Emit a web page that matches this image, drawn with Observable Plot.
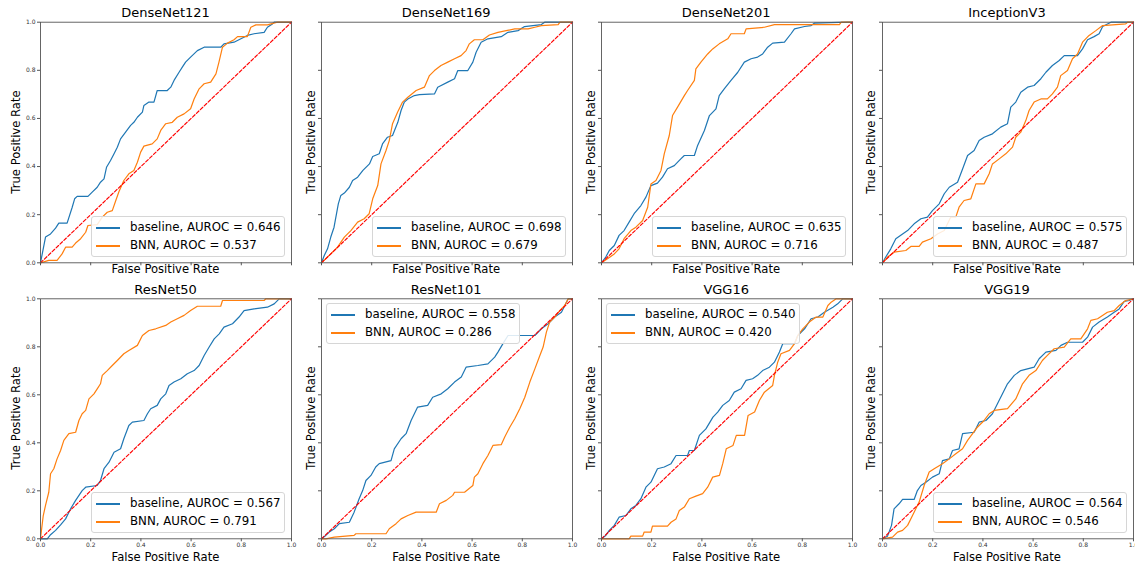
<!DOCTYPE html>
<html>
<head>
<meta charset="utf-8">
<script src="https://cdn.jsdelivr.net/npm/d3@7"></script>
<script src="https://cdn.jsdelivr.net/npm/@observablehq/plot@0.6"></script>
<style>
  html, body { margin: 0; padding: 0; background: #fff; }
  #root { position: relative; width: 1135px; height: 570px; overflow: hidden; font-family: "DejaVu Sans", sans-serif; color: #000; }
  #root svg { position: absolute; overflow: visible; }
  .title { position: absolute; font-size: 13px; line-height: 13px; white-space: nowrap; transform: translateX(-50%); }
  .xlab { position: absolute; font-size: 11.6px; line-height: 11.6px; white-space: nowrap; transform: translate(-50%, -50%); }
  .ylab { position: absolute; font-size: 11.6px; line-height: 11.6px; white-space: nowrap; transform: translate(-50%, -50%) rotate(-90deg); }
  .legend { position: absolute; z-index: 5; width: 194px; height: 41px; box-sizing: border-box; background: rgba(255,255,255,0.85); border: 1px solid #d6d6d6; border-radius: 3px; }
  .legend .sw { position: absolute; left: 4px; width: 24px; height: 2px; }
  .legend .lt { position: absolute; left: 38px; font-size: 11.8px; line-height: 11.8px; white-space: nowrap; }
</style>
</head>
<body>
<div id="root"></div>
<script>
// ---------------- data ----------------
const models = ["DenseNet121", "DenseNet169", "DenseNet201", "InceptionV3", "ResNet50", "ResNet101", "VGG16", "VGG19"];
const aurocBaseline = ["0.646", "0.698", "0.635", "0.575", "0.567", "0.558", "0.540", "0.564"];
const aurocBNN = ["0.537", "0.679", "0.716", "0.487", "0.791", "0.286", "0.420", "0.546"];
const legendLoc = ["lower right", "lower right", "lower right", "lower right", "lower right", "upper left", "upper left", "lower right"];
const tickValues = [0, 0.2, 0.4, 0.6, 0.8, 1.0];
const chance = [[0, 0], [1, 1]];

// [FPR, TPR] pairs
const dn121Base = [[0,0],[0.02,0.107],[0.04,0.12],[0.06,0.144],[0.073,0.165],[0.106,0.165],[0.126,0.23],[0.136,0.266],[0.146,0.276],[0.189,0.276],[0.206,0.294],[0.226,0.314],[0.239,0.335],[0.253,0.349],[0.263,0.397],[0.279,0.425],[0.293,0.453],[0.306,0.48],[0.319,0.515],[0.339,0.543],[0.359,0.571],[0.372,0.584],[0.386,0.605],[0.406,0.626],[0.412,0.654],[0.432,0.668],[0.452,0.668],[0.465,0.716],[0.505,0.716],[0.519,0.73],[0.532,0.758],[0.552,0.792],[0.565,0.813],[0.578,0.834],[0.598,0.855],[0.625,0.882],[0.652,0.896],[0.718,0.896],[0.731,0.91],[0.771,0.917],[0.824,0.945],[0.851,0.952],[0.891,0.958],[0.904,0.979],[0.924,0.993],[0.931,1],[1,1]];
const dn121BNN = [[0,0],[0.033,0.01],[0.066,0.01],[0.086,0.037],[0.1,0.065],[0.126,0.065],[0.14,0.082],[0.16,0.1],[0.18,0.127],[0.189,0.155],[0.226,0.159],[0.246,0.19],[0.266,0.21],[0.286,0.217],[0.3,0.259],[0.312,0.294],[0.332,0.342],[0.352,0.37],[0.372,0.384],[0.386,0.418],[0.399,0.46],[0.412,0.485],[0.445,0.494],[0.465,0.515],[0.479,0.55],[0.499,0.578],[0.525,0.584],[0.545,0.605],[0.572,0.619],[0.598,0.64],[0.612,0.681],[0.632,0.723],[0.652,0.744],[0.678,0.751],[0.699,0.785],[0.711,0.834],[0.725,0.896],[0.745,0.913],[0.771,0.927],[0.785,0.94],[0.824,0.94],[0.838,0.979],[0.858,0.989],[0.904,0.989],[0.944,1],[1,1]];
const dn169Base = [[0,0],[0.011,0.03],[0.024,0.058],[0.037,0.107],[0.05,0.148],[0.067,0.245],[0.077,0.28],[0.091,0.29],[0.111,0.314],[0.124,0.342],[0.144,0.356],[0.165,0.384],[0.191,0.411],[0.204,0.442],[0.23,0.453],[0.243,0.494],[0.263,0.522],[0.283,0.529],[0.304,0.584],[0.317,0.633],[0.33,0.668],[0.344,0.681],[0.37,0.695],[0.39,0.699],[0.45,0.702],[0.463,0.73],[0.503,0.751],[0.53,0.765],[0.543,0.799],[0.583,0.799],[0.603,0.834],[0.616,0.875],[0.636,0.917],[0.663,0.931],[0.716,0.94],[0.743,0.958],[0.783,0.965],[0.809,0.982],[0.876,0.99],[0.889,1],[1,1]];
const dn169BNN = [[0,0],[0.037,0.037],[0.064,0.065],[0.091,0.107],[0.117,0.134],[0.144,0.169],[0.17,0.183],[0.19,0.204],[0.204,0.266],[0.224,0.321],[0.237,0.411],[0.257,0.467],[0.27,0.508],[0.283,0.578],[0.303,0.626],[0.323,0.668],[0.344,0.688],[0.377,0.716],[0.41,0.73],[0.43,0.778],[0.45,0.799],[0.476,0.82],[0.503,0.834],[0.53,0.848],[0.556,0.861],[0.576,0.882],[0.589,0.91],[0.609,0.927],[0.643,0.927],[0.669,0.947],[0.703,0.958],[0.736,0.965],[0.77,0.972],[0.823,0.972],[0.85,0.979],[0.876,0.986],[0.943,0.99],[0.95,1],[1,1]];
const dn201Base = [[0,0],[0.017,0.024],[0.031,0.051],[0.051,0.072],[0.07,0.114],[0.09,0.134],[0.11,0.169],[0.13,0.204],[0.157,0.238],[0.177,0.273],[0.197,0.321],[0.223,0.331],[0.243,0.356],[0.263,0.391],[0.29,0.404],[0.316,0.432],[0.33,0.446],[0.37,0.446],[0.383,0.488],[0.41,0.55],[0.43,0.612],[0.456,0.64],[0.469,0.695],[0.489,0.723],[0.516,0.758],[0.543,0.792],[0.569,0.834],[0.596,0.848],[0.622,0.855],[0.642,0.868],[0.662,0.896],[0.682,0.913],[0.729,0.917],[0.755,0.952],[0.769,0.972],[0.809,0.982],[0.835,0.986],[0.848,0.996],[0.98,1],[1,1]];
const dn201BNN = [[0,0],[0.024,0.017],[0.051,0.037],[0.07,0.058],[0.09,0.1],[0.117,0.134],[0.137,0.148],[0.164,0.176],[0.184,0.231],[0.197,0.328],[0.217,0.342],[0.237,0.384],[0.25,0.453],[0.27,0.529],[0.283,0.612],[0.303,0.647],[0.33,0.695],[0.343,0.716],[0.37,0.758],[0.376,0.806],[0.396,0.834],[0.423,0.868],[0.443,0.889],[0.469,0.91],[0.503,0.931],[0.516,0.952],[0.569,0.952],[0.576,0.972],[0.649,0.979],[0.689,0.99],[0.948,0.99],[0.955,1],[1,1]];
const incBase = [[0,0],[0.013,0.024],[0.033,0.058],[0.053,0.1],[0.08,0.12],[0.1,0.134],[0.126,0.162],[0.153,0.183],[0.179,0.19],[0.199,0.217],[0.226,0.245],[0.246,0.287],[0.266,0.314],[0.299,0.335],[0.319,0.39],[0.339,0.446],[0.365,0.467],[0.385,0.508],[0.405,0.522],[0.438,0.536],[0.471,0.564],[0.498,0.578],[0.511,0.647],[0.531,0.668],[0.551,0.709],[0.578,0.73],[0.604,0.737],[0.631,0.765],[0.651,0.792],[0.677,0.82],[0.704,0.841],[0.724,0.861],[0.777,0.861],[0.797,0.889],[0.817,0.927],[0.843,0.94],[0.863,0.952],[0.877,0.982],[0.91,1],[1,1]];
const incBNN = [[0,0],[0.02,0.024],[0.046,0.044],[0.093,0.051],[0.113,0.068],[0.146,0.068],[0.159,0.086],[0.193,0.1],[0.219,0.12],[0.246,0.134],[0.272,0.19],[0.292,0.19],[0.305,0.231],[0.325,0.259],[0.352,0.266],[0.372,0.328],[0.405,0.328],[0.425,0.37],[0.438,0.411],[0.465,0.432],[0.491,0.453],[0.518,0.481],[0.531,0.522],[0.551,0.543],[0.571,0.591],[0.584,0.633],[0.604,0.668],[0.631,0.681],[0.657,0.681],[0.677,0.702],[0.697,0.73],[0.71,0.778],[0.737,0.799],[0.757,0.848],[0.777,0.868],[0.797,0.917],[0.823,0.945],[0.85,0.965],[0.877,0.986],[0.969,0.993],[0.976,1],[1,1]];
const rn50Base = [[0,0],[0.027,0],[0.04,0.017],[0.06,0.035],[0.08,0.058],[0.1,0.083],[0.12,0.125],[0.14,0.16],[0.166,0.201],[0.18,0.215],[0.226,0.222],[0.239,0.243],[0.253,0.292],[0.273,0.319],[0.293,0.361],[0.319,0.375],[0.332,0.417],[0.352,0.472],[0.366,0.486],[0.412,0.493],[0.426,0.521],[0.439,0.542],[0.465,0.556],[0.479,0.583],[0.499,0.604],[0.512,0.639],[0.532,0.653],[0.559,0.667],[0.585,0.688],[0.612,0.701],[0.632,0.722],[0.652,0.764],[0.672,0.799],[0.692,0.833],[0.712,0.854],[0.731,0.882],[0.765,0.896],[0.791,0.924],[0.811,0.951],[0.851,0.958],[0.904,0.965],[0.931,0.979],[0.951,1],[1,1]];
const rn50BNN = [[0,0],[0.003,0.028],[0.011,0.097],[0.02,0.139],[0.033,0.194],[0.04,0.271],[0.053,0.292],[0.066,0.333],[0.08,0.368],[0.093,0.41],[0.113,0.438],[0.14,0.444],[0.153,0.493],[0.166,0.521],[0.18,0.535],[0.193,0.583],[0.213,0.604],[0.226,0.625],[0.239,0.646],[0.246,0.681],[0.266,0.701],[0.286,0.722],[0.306,0.743],[0.332,0.771],[0.352,0.785],[0.386,0.806],[0.406,0.847],[0.432,0.868],[0.459,0.875],[0.499,0.889],[0.519,0.903],[0.545,0.917],[0.572,0.931],[0.598,0.951],[0.625,0.969],[0.718,0.969],[0.725,0.993],[0.891,0.993],[0.898,1],[1,1]];
const rn101Base = [[0,0],[0.017,0.014],[0.031,0.028],[0.051,0.042],[0.071,0.063],[0.111,0.069],[0.13,0.111],[0.15,0.167],[0.164,0.201],[0.177,0.243],[0.197,0.264],[0.216,0.299],[0.23,0.313],[0.277,0.326],[0.29,0.375],[0.317,0.417],[0.337,0.438],[0.357,0.493],[0.383,0.549],[0.423,0.556],[0.443,0.59],[0.477,0.604],[0.503,0.625],[0.53,0.653],[0.557,0.674],[0.576,0.715],[0.623,0.722],[0.663,0.729],[0.69,0.757],[0.703,0.778],[0.723,0.813],[0.743,0.847],[0.85,0.847],[0.876,0.875],[0.903,0.896],[0.929,0.924],[0.956,0.944],[0.976,0.986],[0.983,1],[1,1]];
const rn101BNN = [[0,0],[0.017,0],[0.051,0.007],[0.13,0.014],[0.137,0.021],[0.257,0.021],[0.27,0.042],[0.297,0.063],[0.317,0.083],[0.344,0.097],[0.377,0.111],[0.457,0.111],[0.47,0.146],[0.497,0.16],[0.523,0.181],[0.53,0.194],[0.57,0.194],[0.603,0.222],[0.609,0.257],[0.623,0.271],[0.643,0.313],[0.663,0.347],[0.683,0.389],[0.716,0.392],[0.73,0.424],[0.75,0.465],[0.77,0.5],[0.79,0.542],[0.81,0.59],[0.83,0.653],[0.85,0.708],[0.87,0.764],[0.883,0.799],[0.896,0.861],[0.909,0.903],[0.929,0.924],[0.949,0.951],[0.969,0.972],[0.983,1],[1,1]];
const vgg16Base = [[0,0],[0.017,0.014],[0.031,0.035],[0.051,0.056],[0.07,0.09],[0.097,0.097],[0.117,0.125],[0.137,0.139],[0.157,0.167],[0.177,0.215],[0.197,0.236],[0.223,0.292],[0.25,0.299],[0.277,0.313],[0.297,0.347],[0.343,0.347],[0.35,0.368],[0.37,0.368],[0.39,0.431],[0.416,0.458],[0.444,0.507],[0.463,0.528],[0.483,0.556],[0.509,0.576],[0.529,0.611],[0.556,0.625],[0.576,0.66],[0.602,0.667],[0.622,0.681],[0.642,0.701],[0.669,0.715],[0.689,0.736],[0.709,0.778],[0.722,0.813],[0.769,0.813],[0.782,0.847],[0.809,0.875],[0.835,0.917],[0.862,0.924],[0.888,0.944],[0.922,0.965],[0.941,0.979],[0.961,1],[1,1]];
const vgg16BNN = [[0,0],[0.11,0],[0.117,0.011],[0.164,0.011],[0.17,0.028],[0.197,0.028],[0.203,0.053],[0.263,0.053],[0.277,0.069],[0.297,0.083],[0.31,0.118],[0.33,0.132],[0.35,0.167],[0.376,0.178],[0.403,0.188],[0.423,0.215],[0.443,0.257],[0.47,0.264],[0.483,0.313],[0.497,0.375],[0.524,0.389],[0.537,0.431],[0.57,0.431],[0.584,0.514],[0.61,0.528],[0.629,0.576],[0.649,0.611],[0.682,0.639],[0.689,0.681],[0.702,0.736],[0.715,0.771],[0.749,0.785],[0.769,0.813],[0.782,0.847],[0.802,0.875],[0.828,0.903],[0.855,0.924],[0.882,0.924],[0.902,0.972],[0.915,0.986],[0.935,1],[1,1]];
const vgg19Base = [[0,0],[0.02,0.011],[0.036,0.056],[0.046,0.125],[0.066,0.146],[0.08,0.164],[0.126,0.164],[0.139,0.201],[0.153,0.222],[0.173,0.236],[0.199,0.257],[0.226,0.271],[0.239,0.326],[0.266,0.333],[0.279,0.368],[0.305,0.375],[0.319,0.438],[0.365,0.444],[0.385,0.486],[0.412,0.493],[0.438,0.521],[0.458,0.563],[0.478,0.604],[0.498,0.646],[0.525,0.681],[0.551,0.701],[0.604,0.715],[0.624,0.75],[0.651,0.778],[0.691,0.785],[0.711,0.806],[0.737,0.819],[0.797,0.819],[0.817,0.84],[0.837,0.882],[0.863,0.903],[0.896,0.924],[0.923,0.944],[0.943,0.958],[0.963,0.989],[0.983,0.993],[1,1]];
const vgg19BNN = [[0,0],[0.04,0.007],[0.06,0.028],[0.08,0.035],[0.1,0.056],[0.126,0.111],[0.146,0.153],[0.166,0.222],[0.186,0.278],[0.206,0.292],[0.239,0.313],[0.266,0.333],[0.292,0.354],[0.319,0.375],[0.339,0.41],[0.378,0.465],[0.405,0.493],[0.425,0.521],[0.445,0.535],[0.498,0.542],[0.531,0.583],[0.558,0.646],[0.584,0.681],[0.611,0.701],[0.637,0.743],[0.657,0.764],[0.684,0.792],[0.724,0.799],[0.75,0.833],[0.79,0.833],[0.817,0.875],[0.83,0.91],[0.857,0.917],[0.896,0.944],[0.923,0.951],[0.943,0.972],[0.969,0.993],[1,1]];

const baselineCurves = [dn121Base, dn169Base, dn201Base, incBase, rn50Base, rn101Base, vgg16Base, vgg19Base];
const bnnCurves = [dn121BNN, dn169BNN, dn201BNN, incBNN, rn50BNN, rn101BNN, vgg16BNN, vgg19BNN];

// ---------------- layout ----------------
const BLUE = "#1f77b4", ORANGE = "#ff7f0e", RED = "#ff0000";
const colLeft = [40, 320.7, 600.7, 881.5];
const rowTop = [21.7, 298.3];
const frameW = 251;
const frameH = [240.6, 240];
const svgTop = [0, 276];
const svgH = [276, 294];

const root = document.getElementById("root");
const fmt = d3.format(".1f");

function addDiv(cls, text, styles) {
  const el = document.createElement("div");
  el.className = cls;
  if (text != null) el.textContent = text;
  Object.assign(el.style, styles);
  root.appendChild(el);
  return el;
}

models.forEach((name, i) => {
  const col = i % 4, row = Math.floor(i / 4);
  const mL = col === 0 ? 40 : 25;
  const mR = 4;
  const mT = rowTop[row] - svgTop[row];
  const H = frameH[row];
  const mB = svgH[row] - mT - H;
  const svg = Plot.plot({
    width: mL + frameW + mR,
    height: svgH[row],
    marginLeft: mL, marginRight: mR, marginTop: mT, marginBottom: mB,
    style: { background: "transparent", fontFamily: "DejaVu Sans, sans-serif", fontSize: "6px", color: "#333", overflow: "visible" },
    x: { domain: [0, 1] },
    y: { domain: [0, 1] },
    marks: [
      Plot.line(baselineCurves[i], { x: d => d[0], y: d => d[1], stroke: BLUE, strokeWidth: 1.2 }),
      Plot.line(bnnCurves[i], { x: d => d[0], y: d => d[1], stroke: ORANGE, strokeWidth: 1.2 }),
      Plot.line(chance, { x: d => d[0], y: d => d[1], stroke: RED, strokeWidth: 1.15, strokeDasharray: "3.4,2" }),
      Plot.frame({ stroke: "#555", strokeWidth: 0.9 }),
      Plot.axisX({ ticks: tickValues, tickSize: 3, tickPadding: 1, stroke: "#555", tickFormat: row === 1 ? fmt : () => "", label: null }),
      Plot.axisY({ ticks: tickValues, tickSize: 3, tickPadding: 2, stroke: "#555", tickFormat: col === 0 ? fmt : () => "", label: null })
    ]
  });
  svg.style.left = (colLeft[col] - mL) + "px";
  svg.style.top = svgTop[row] + "px";
  root.appendChild(svg);

  const cx = colLeft[col] + frameW / 2;
  const top = rowTop[row];
  const bottom = top + H;
  addDiv("title", name, { left: cx + "px", top: (top - 9 - 6.5) + "px" });
  addDiv("xlab", "False Positive Rate", { left: cx + "px", top: (bottom + (row === 1 ? 19.4 : 7.2)) + "px" });
  addDiv("ylab", "True Positive Rate", { left: (colLeft[col] - (col === 0 ? 23.5 : 9.2)) + "px", top: (top + H / 2) + "px" });

  // legend
  let lx, ly;
  if (legendLoc[i] === "upper left") { lx = colLeft[col] + 5.3; ly = top + 5; }
  else { lx = colLeft[col] + frameW - 6 - 194; ly = bottom - 5 - 41; }
  lx = Math.round(lx); ly = Math.round(ly);
  const leg = addDiv("legend", null, { left: lx + "px", top: ly + "px" });
  [[BLUE, `baseline, AUROC = ${aurocBaseline[i]}`, 11], [ORANGE, `BNN, AUROC = ${aurocBNN[i]}`, 29]].forEach(([c, t, y]) => {
    const sw = document.createElement("div");
    sw.className = "sw";
    sw.style.backgroundColor = c;
    sw.style.top = (y - 1) + "px";
    leg.appendChild(sw);
    const lt = document.createElement("div");
    lt.className = "lt";
    lt.textContent = t;
    lt.style.top = (y - 5.9) + "px";
    leg.appendChild(lt);
  });
});
</script>
</body>
</html>
